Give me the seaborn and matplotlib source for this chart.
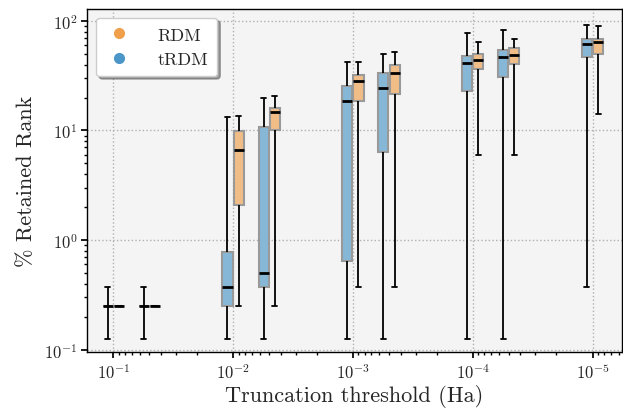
import numpy as np
import pandas as pd
import matplotlib
matplotlib.use("Agg")
import matplotlib.pyplot as plt
import seaborn as sns
from matplotlib.lines import Line2D

# valores: (min, q1, mediana, q3, max) em % do rank retido
thresholds = [1e-1, 5e-2, 1e-2, 5e-3, 1e-3, 5e-4, 1e-4, 5e-5, 1e-5]

trdm_min = [0.125, 0.125, 0.125, 0.125, 0.125, 0.125, 0.125, 0.125, 0.375]
trdm_q1 = [0.25, 0.25, 0.25, 0.375, 0.65, 6.4, 23.0, 30.5, 46.5]
trdm_med = [0.25, 0.25, 0.375, 0.5, 18.5, 24.5, 41.0, 46.5, 61.0]
trdm_q3 = [0.25, 0.25, 0.77, 10.8, 25.6, 33.3, 48.0, 54.3, 68.5]
trdm_max = [0.375, 0.375, 13.2, 19.8, 42.0, 50.0, 77.5, 83.0, 92.5]

rdm_min = [0.25, 0.25, 0.25, 0.25, 0.375, 0.375, 6.0, 6.0, 14.2]
rdm_q1 = [0.25, 0.25, 2.07, 10.2, 18.5, 21.7, 36.5, 40.7, 49.7]
rdm_med = [0.25, 0.25, 6.7, 14.7, 28.5, 33.3, 44.4, 49.2, 64.7]
rdm_q3 = [0.25, 0.25, 9.8, 16.0, 32.0, 40.0, 50.4, 56.3, 68.5]
rdm_max = [0.25, 0.25, 13.6, 20.8, 42.5, 52.5, 64.7, 68.5, 90.5]

cores_box = {"RDM": "#f1bd87", "tRDM": "#87b7d7"}
cores_leg = {"RDM": "#f0a04b", "tRDM": "#4b96c8"}

# monta a tabela longa: cada caixa vira 5 pontos (min, q1, med, q3, max)
linhas = []
for metodo, cols in [("tRDM", [trdm_min, trdm_q1, trdm_med, trdm_q3, trdm_max]),
                     ("RDM", [rdm_min, rdm_q1, rdm_med, rdm_q3, rdm_max])]:
    for i, t in enumerate(thresholds):
        for c in cols:
            linhas.append({"threshold": t, "rank": c[i], "metodo": metodo})
df = pd.DataFrame(linhas)

sns.set_theme(style="whitegrid")
plt.rcParams["font.family"] = "serif"
plt.rcParams["font.serif"] = ["cmr10"]
plt.rcParams["mathtext.fontset"] = "cm"
plt.rcParams["axes.formatter.use_mathtext"] = True
plt.rcParams["axes.unicode_minus"] = True

fig = plt.figure(figsize=(6.23, 4.10), dpi=100)
ax = fig.add_axes([0.14, 0.139, 0.858, 0.837])
ax.set_facecolor("#f4f4f4")

sns.boxplot(
    data=df, x="threshold", y="rank", hue="metodo",
    hue_order=["RDM", "tRDM"], palette=cores_box, saturation=1,
    native_scale=True, log_scale=(True, True), width=0.62, gap=0.1,
    whis=(0, 100), showfliers=False, legend=False, ax=ax,
    boxprops=dict(edgecolor="#999999", linewidth=1.5),
    medianprops=dict(color="black", linewidth=2),
    whiskerprops=dict(color="black", linewidth=1.3),
    capprops=dict(color="black", linewidth=1.3),
)

ax.set_xlim(0.165, 5.7e-6)  # eixo invertido
ax.set_ylim(0.095, 129)
ax.grid(True, which="major", linestyle=":", color="#b0b0b0", linewidth=1)
for s in ax.spines.values():
    s.set_color("black")
    s.set_linewidth(1)
ax.tick_params(which="both", direction="out", bottom=True, left=True, color="black", labelsize=12)
ax.tick_params(which="major", length=4, pad=3)
ax.tick_params(which="minor", length=2)

ax.set_xlabel("Truncation threshold (Ha)", fontsize=16, labelpad=2)
ax.set_ylabel("% Retained Rank", fontsize=16, labelpad=6)

handles = [Line2D([], [], marker="o", linestyle="", markersize=7, color=cores_leg[m]) for m in ["RDM", "tRDM"]]
leg = ax.legend(handles, ["RDM", "tRDM"], loc="upper left", fontsize=13, shadow=True, fancybox=True,
                handlelength=1.5, handletextpad=1.4, borderpad=0.5, labelspacing=0.5, frameon=True)
leg.get_frame().set_edgecolor("#cccccc")

fig.savefig("out.png", dpi=100)
